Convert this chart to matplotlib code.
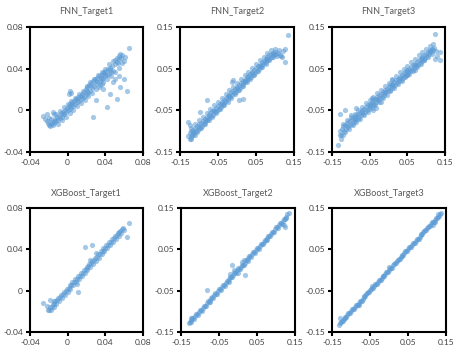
import matplotlib
matplotlib.use("Agg")
import matplotlib.pyplot as plt

plt.rcParams['font.family'] = ['Lato', 'DejaVu Sans']

# FNN_Target1
fnn1_x = [-0.026, -0.024, -0.021, -0.020, -0.019, -0.018, -0.017, -0.016, -0.015, -0.014,
          -0.013, -0.012, -0.011, -0.010, -0.009, -0.008, -0.007, -0.006, -0.005, -0.004,
          -0.003, -0.002, -0.001, 0.000, 0.001, 0.002, 0.003, 0.004, 0.005, 0.006,
          0.007, 0.008, 0.009, 0.010, 0.011, 0.012, 0.013, 0.014, 0.015, 0.016,
          0.017, 0.018, 0.019, 0.020, 0.021, 0.022, 0.023, 0.024, 0.025, 0.026,
          0.027, 0.028, 0.029, 0.030, 0.031, 0.032, 0.033, 0.034, 0.035, 0.036,
          0.037, 0.038, 0.039, 0.040, 0.041, 0.042, 0.043, 0.044, 0.045, 0.046,
          0.047, 0.048, 0.050, 0.052, 0.054, 0.055, 0.057, 0.058, 0.060, 0.061,
          0.065, 0.005, 0.015, 0.025, 0.035, 0.045, -0.005, 0.010, 0.020, 0.030,
          0.040, 0.002, 0.004, 0.001, 0.056, 0.063, 0.052, 0.042, 0.027, 0.045,
          0.050, 0.055, 0.038, 0.030, 0.060, -0.022, -0.016, 0.048,
          -0.012, -0.008, -0.004, 0.000, 0.004, 0.008, 0.012, 0.016, 0.020, 0.024,
          0.028, 0.032, 0.036, 0.040, 0.044, 0.048, 0.052, 0.056,
          -0.010, -0.006, -0.002, 0.002, 0.006, 0.010, 0.014, 0.018, 0.022, 0.026,
          0.030, 0.034, 0.038, 0.042, 0.046, 0.050, 0.054, 0.058,
          -0.022, -0.018, -0.020, -0.014, 0.050, 0.053, 0.036, 0.033]
fnn1_y = [-0.005, -0.008, -0.012, -0.014, -0.015, -0.013, -0.011, -0.014, -0.010, -0.012,
          -0.008, -0.010, -0.006, -0.009, -0.005, -0.007, -0.003, -0.006, -0.002, -0.004,
          0.000, -0.002, 0.002, 0.000, 0.004, 0.001, 0.006, 0.003, 0.008, 0.004,
          0.009, 0.006, 0.011, 0.008, 0.013, 0.009, 0.014, 0.011, 0.016, 0.012,
          0.018, 0.014, 0.020, 0.016, 0.022, 0.018, 0.024, 0.019, 0.026, 0.021,
          0.028, 0.023, 0.030, 0.025, 0.031, 0.027, 0.033, 0.028, 0.034, 0.030,
          0.036, 0.031, 0.037, 0.033, 0.038, 0.034, 0.040, 0.035, 0.041, 0.037,
          0.043, 0.038, 0.044, 0.046, 0.049, 0.052, 0.050, 0.053, 0.047, 0.051,
          0.060, 0.006, 0.014, 0.023, 0.031, 0.039, -0.004, 0.011, 0.019, 0.028,
          0.035, 0.019, 0.017, 0.016, 0.022, 0.019, 0.011, 0.003, -0.006, 0.016,
          0.030, 0.033, 0.020, 0.010, 0.030, -0.004, -0.002, 0.027,
          -0.004, -0.001, 0.003, 0.006, 0.009, 0.012, 0.016, 0.019, 0.023, 0.027,
          0.030, 0.034, 0.037, 0.040, 0.044, 0.047, 0.050, 0.054,
          -0.013, -0.009, -0.006, -0.003, 0.000, 0.004, 0.007, 0.010, 0.014, 0.017,
          0.020, 0.024, 0.027, 0.030, 0.033, 0.037, 0.041, 0.045,
          -0.010, -0.008, -0.007, -0.004, 0.048, 0.045, 0.025, 0.022]

# FNN_Target2
fnn2_x = [-0.128, -0.125, -0.122, -0.120, -0.118, -0.115, -0.113, -0.110, -0.108, -0.105,
          -0.103, -0.100, -0.098, -0.095, -0.093, -0.090, -0.088, -0.085, -0.083, -0.080,
          -0.078, -0.075, -0.073, -0.070, -0.068, -0.065, -0.063, -0.060, -0.058, -0.055,
          -0.053, -0.050, -0.048, -0.045, -0.043, -0.040, -0.038, -0.035, -0.033, -0.030,
          -0.028, -0.025, -0.023, -0.020, -0.018, -0.015, -0.013, -0.010, -0.008, -0.005,
          -0.003, 0.000, 0.002, 0.005, 0.007, 0.010, 0.012, 0.015, 0.017, 0.020,
          0.022, 0.025, 0.027, 0.030, 0.032, 0.035, 0.037, 0.040, 0.042, 0.045,
          0.047, 0.050, 0.052, 0.055, 0.057, 0.060, 0.062, 0.065, 0.067, 0.070,
          0.072, 0.075, 0.077, 0.080, 0.082, 0.085, 0.087, 0.090, 0.092, 0.095,
          0.098, 0.100, 0.103, 0.108, 0.112, 0.118, 0.120, 0.126, 0.126, 0.135,
          -0.080, -0.097, -0.128, -0.125, 0.017, 0.004, -0.014, -0.010, -0.120, -0.110,
          -0.100, -0.080, -0.060, -0.040, -0.020, 0.000, 0.020, 0.040, 0.060, 0.080,
          0.095, -0.115,
          -0.120, -0.110, -0.100, -0.090, -0.080, -0.070, -0.060, -0.050, -0.040, -0.030,
          -0.020, -0.010, 0.000, 0.010, 0.020, 0.030, 0.040, 0.050, 0.060, 0.070,
          0.080, 0.090, 0.100, 0.110,
          -0.125, -0.115, -0.105, -0.095, -0.085, -0.075, -0.065, -0.055, -0.045, -0.035,
          -0.025, -0.015, -0.005, 0.005, 0.015, 0.025, 0.035, 0.045, 0.055, 0.065,
          0.075, 0.085, 0.095, 0.105, 0.115]
fnn2_y = [-0.112, -0.105, -0.115, -0.100, -0.108, -0.096, -0.104, -0.092, -0.100, -0.088,
          -0.096, -0.083, -0.092, -0.080, -0.087, -0.076, -0.083, -0.071, -0.078, -0.066,
          -0.074, -0.062, -0.069, -0.057, -0.064, -0.052, -0.060, -0.048, -0.055, -0.044,
          -0.051, -0.039, -0.046, -0.034, -0.041, -0.030, -0.037, -0.025, -0.032, -0.021,
          -0.027, -0.016, -0.023, -0.012, -0.018, -0.007, -0.014, -0.003, -0.009, 0.002,
          -0.005, 0.006, 0.000, 0.011, 0.004, 0.015, 0.009, 0.020, 0.013, 0.024,
          0.018, 0.029, 0.022, 0.033, 0.027, 0.038, 0.031, 0.042, 0.036, 0.047,
          0.040, 0.051, 0.045, 0.056, 0.049, 0.060, 0.054, 0.065, 0.058, 0.069,
          0.063, 0.073, 0.067, 0.078, 0.071, 0.082, 0.076, 0.086, 0.079, 0.088,
          0.083, 0.090, 0.085, 0.088, 0.082, 0.078, 0.092, 0.098, 0.066, 0.130,
          -0.026, -0.054, -0.078, -0.085, -0.022, -0.026, 0.018, 0.022, -0.118, -0.110,
          -0.090, -0.072, -0.052, -0.034, -0.015, 0.003, 0.021, 0.039, 0.057, 0.074,
          0.084, -0.102,
          -0.092, -0.083, -0.074, -0.065, -0.056, -0.047, -0.038, -0.029, -0.020, -0.011,
          -0.002, 0.007, 0.016, 0.025, 0.034, 0.043, 0.052, 0.061, 0.070, 0.079,
          0.088, 0.094, 0.097, 0.095,
          -0.118, -0.110, -0.101, -0.092, -0.083, -0.074, -0.065, -0.056, -0.047, -0.038,
          -0.029, -0.020, -0.011, -0.002, 0.008, 0.017, 0.026, 0.035, 0.044, 0.053,
          0.062, 0.071, 0.078, 0.080, 0.080]

# FNN_Target3
fnn3_x = [-0.134, -0.130, -0.116, -0.130, -0.128, -0.126, -0.124, -0.122, -0.120, -0.118,
          -0.115, -0.112, -0.110, -0.108, -0.105, -0.102, -0.100, -0.098, -0.095, -0.092,
          -0.090, -0.088, -0.085, -0.082, -0.080, -0.078, -0.075, -0.072, -0.070, -0.068,
          -0.065, -0.062, -0.060, -0.058, -0.055, -0.052, -0.050, -0.048, -0.045, -0.042,
          -0.040, -0.038, -0.035, -0.032, -0.030, -0.028, -0.025, -0.022, -0.020, -0.018,
          -0.015, -0.012, -0.010, -0.008, -0.005, -0.002, 0.000, 0.003, 0.005, 0.008,
          0.010, 0.013, 0.015, 0.018, 0.020, 0.023, 0.025, 0.028, 0.030, 0.033,
          0.035, 0.038, 0.040, 0.043, 0.045, 0.048, 0.050, 0.053, 0.055, 0.058,
          0.060, 0.063, 0.065, 0.068, 0.070, 0.073, 0.075, 0.078, 0.080, 0.083,
          0.085, 0.088, 0.090, 0.093, 0.095, 0.098, 0.100, 0.103, 0.105, 0.108,
          0.110, 0.113, 0.116, 0.118, 0.120, 0.119, 0.123, 0.123, 0.137, 0.137,
          0.128, -0.032, -0.040, -0.020, -0.045, -0.085, -0.100, 0.010, 0.050, 0.070,
          -0.110, -0.090, -0.070, -0.050, -0.030, -0.010, 0.010, 0.030, 0.050, 0.070,
          0.090, 0.110,
          -0.120, -0.110, -0.100, -0.090, -0.080, -0.070, -0.060, -0.050, -0.040, -0.030,
          -0.020, -0.010, 0.000, 0.010, 0.020, 0.030, 0.040, 0.050, 0.060, 0.070,
          0.080, 0.090, 0.100, 0.110,
          -0.125, -0.115, -0.105, -0.095, -0.085, -0.075, -0.065, -0.055, -0.045, -0.035,
          -0.025, -0.015, -0.005, 0.005, 0.015, 0.025, 0.035, 0.045, 0.055, 0.065,
          0.075, 0.085, 0.095, 0.105, 0.115, 0.125]
fnn3_y = [-0.134, -0.058, -0.050, -0.110, -0.100, -0.118, -0.095, -0.108, -0.088, -0.100,
          -0.085, -0.095, -0.080, -0.090, -0.076, -0.086, -0.072, -0.082, -0.068, -0.078,
          -0.065, -0.074, -0.062, -0.070, -0.058, -0.066, -0.054, -0.062, -0.050, -0.058,
          -0.046, -0.054, -0.042, -0.050, -0.038, -0.046, -0.034, -0.042, -0.030, -0.038,
          -0.026, -0.034, -0.022, -0.030, -0.018, -0.026, -0.014, -0.021, -0.010, -0.017,
          -0.006, -0.013, -0.002, -0.009, 0.002, -0.004, 0.006, 0.000, 0.010, 0.004,
          0.014, 0.008, 0.018, 0.012, 0.022, 0.016, 0.026, 0.020, 0.030, 0.024,
          0.034, 0.028, 0.038, 0.032, 0.042, 0.036, 0.046, 0.040, 0.050, 0.044,
          0.054, 0.048, 0.058, 0.052, 0.062, 0.056, 0.066, 0.060, 0.070, 0.064,
          0.074, 0.068, 0.078, 0.072, 0.082, 0.076, 0.086, 0.080, 0.090, 0.085,
          0.094, 0.090, 0.098, 0.094, 0.100, 0.110, 0.134, 0.074, 0.070, 0.090,
          0.080, -0.045, -0.050, -0.030, -0.020, -0.045, -0.060, 0.025, 0.035, 0.048,
          -0.088, -0.071, -0.054, -0.038, -0.022, -0.005, 0.012, 0.027, 0.044, 0.060,
          0.076, 0.092,
          -0.082, -0.074, -0.066, -0.058, -0.050, -0.041, -0.033, -0.025, -0.017, -0.009,
          0.000, 0.008, 0.016, 0.024, 0.032, 0.041, 0.049, 0.057, 0.065, 0.073,
          0.082, 0.090, 0.098, 0.104,
          -0.110, -0.102, -0.094, -0.086, -0.078, -0.070, -0.061, -0.053, -0.045, -0.037,
          -0.029, -0.020, -0.012, -0.004, 0.004, 0.013, 0.021, 0.029, 0.037, 0.045,
          0.054, 0.062, 0.070, 0.078, 0.086, 0.092]

# XGBoost_Target1
xgb1_x = [-0.021, -0.019, -0.018, -0.016, -0.015, -0.013, -0.012, -0.010, -0.009, -0.007,
          -0.006, -0.004, -0.003, -0.001, 0.000, 0.002, 0.003, 0.005, 0.006, 0.008,
          0.009, 0.011, 0.012, 0.014, 0.015, 0.017, 0.018, 0.020, 0.021, 0.023,
          0.024, 0.026, 0.027, 0.029, 0.030, 0.032, 0.033, 0.035, 0.036, 0.038,
          0.039, 0.041, 0.042, 0.044, 0.045, 0.047, 0.048, 0.050, 0.051, 0.053,
          0.054, 0.056, 0.057, 0.059, 0.060,
          -0.026, -0.019, -0.015, 0.0115, 0.0186, 0.0257, 0.063, 0.065, 0.024, 0.030,
          0.010, -0.022,
          -0.020, -0.017, -0.014, -0.011, -0.008, -0.005, -0.002, 0.001, 0.004, 0.007,
          0.010, 0.013, 0.016, 0.019, 0.022, 0.025, 0.028, 0.031, 0.034, 0.037,
          0.040, 0.043, 0.046, 0.049, 0.052, 0.055, 0.058]
xgb1_y = [-0.019, -0.016, -0.019, -0.013, -0.016, -0.010, -0.013, -0.007, -0.010, -0.004,
          -0.007, -0.001, -0.004, 0.002, -0.001, 0.005, 0.002, 0.008, 0.005, 0.011,
          0.008, 0.014, 0.011, 0.017, 0.014, 0.020, 0.017, 0.023, 0.020, 0.026,
          0.023, 0.029, 0.026, 0.032, 0.029, 0.035, 0.032, 0.038, 0.035, 0.041,
          0.038, 0.044, 0.041, 0.047, 0.044, 0.050, 0.047, 0.053, 0.050, 0.056,
          0.053, 0.058, 0.056, 0.061, 0.059,
          -0.012, -0.009, -0.010, -0.001, 0.0427, 0.0443, 0.052, 0.065, 0.030, 0.036,
          0.006, -0.015,
          -0.0185, -0.0155, -0.0125, -0.0095, -0.0065, -0.0035, -0.0005, 0.0025, 0.0055, 0.0085,
          0.0115, 0.0145, 0.0175, 0.0205, 0.0235, 0.0265, 0.0295, 0.0325, 0.0355, 0.0385,
          0.0415, 0.0445, 0.0475, 0.0505, 0.0535, 0.0565, 0.0595]

# XGBoost_Target2
xgb2_x = [-0.130, -0.125, -0.120, -0.115, -0.110, -0.105, -0.100, -0.095, -0.090, -0.085,
          -0.080, -0.075, -0.070, -0.065, -0.060, -0.055, -0.050, -0.045, -0.040, -0.035,
          -0.030, -0.025, -0.020, -0.015, -0.010, -0.005, 0.000, 0.005, 0.010, 0.015,
          0.020, 0.025, 0.030, 0.035, 0.040, 0.045, 0.050, 0.055, 0.060, 0.065,
          0.070, 0.075, 0.080, 0.085, 0.090, 0.095, 0.100, 0.105, 0.110, 0.115,
          0.120, 0.125, 0.130, 0.133,
          -0.082, -0.016, 0.019, 0.124, 0.120, -0.010, 0.010, -0.020, 0.000, -0.125,
          0.015,
          -0.1275, -0.1175, -0.1075, -0.0975, -0.0875, -0.0775, -0.0675, -0.0575, -0.0475, -0.0375,
          -0.0275, -0.0175, -0.0075, 0.0025, 0.0125, 0.0225, 0.0325, 0.0425, 0.0525, 0.0625,
          0.0725, 0.0825, 0.0925, 0.1025, 0.1125, 0.1225,
          -0.1225, -0.1125, -0.1025, -0.0925, -0.0825, -0.0725, -0.0625, -0.0525, -0.0425, -0.0325,
          -0.0225, -0.0125, -0.0025, 0.0075, 0.0175, 0.0275, 0.0375, 0.0475, 0.0575, 0.0675,
          0.0775, 0.0875, 0.0975, 0.1075, 0.1175, 0.1275]
xgb2_y = [-0.128, -0.127, -0.116, -0.118, -0.107, -0.108, -0.096, -0.098, -0.087, -0.088,
          -0.076, -0.078, -0.067, -0.068, -0.056, -0.058, -0.047, -0.048, -0.036, -0.038,
          -0.027, -0.028, -0.016, -0.018, -0.007, -0.008, 0.004, 0.002, 0.013, 0.012,
          0.024, 0.022, 0.033, 0.032, 0.044, 0.042, 0.053, 0.052, 0.064, 0.062,
          0.073, 0.072, 0.083, 0.082, 0.093, 0.092, 0.103, 0.102, 0.113, 0.112,
          0.123, 0.127, 0.135, 0.138,
          -0.049, 0.012, -0.012, 0.105, 0.110, 0.000, 0.020, -0.010, -0.008, -0.115,
          0.025,
          -0.126, -0.117, -0.106, -0.097, -0.086, -0.077, -0.066, -0.057, -0.046, -0.037,
          -0.026, -0.017, -0.006, 0.003, 0.013, 0.023, 0.033, 0.043, 0.053, 0.063,
          0.073, 0.083, 0.093, 0.103, 0.113, 0.123,
          -0.121, -0.112, -0.101, -0.092, -0.081, -0.072, -0.061, -0.052, -0.041, -0.032,
          -0.021, -0.012, -0.001, 0.008, 0.018, 0.028, 0.038, 0.048, 0.058, 0.068,
          0.078, 0.088, 0.098, 0.108, 0.118, 0.128]

# XGBoost_Target3
xgb3_x = [-0.132, -0.127, -0.122, -0.117, -0.112, -0.107, -0.102, -0.097, -0.092, -0.087,
          -0.082, -0.077, -0.072, -0.067, -0.062, -0.057, -0.052, -0.047, -0.042, -0.037,
          -0.032, -0.027, -0.022, -0.017, -0.012, -0.007, -0.002, 0.003, 0.008, 0.013,
          0.018, 0.023, 0.028, 0.033, 0.038, 0.043, 0.048, 0.053, 0.058, 0.063,
          0.068, 0.073, 0.078, 0.083, 0.088, 0.093, 0.098, 0.103, 0.108, 0.113,
          0.118, 0.123, 0.128, 0.133, 0.136,
          -0.130, 0.117, 0.122, -0.045, -0.080, 0.000, 0.130,
          -0.1295, -0.1195, -0.1095, -0.0995, -0.0895, -0.0795, -0.0695, -0.0595, -0.0495, -0.0395,
          -0.0295, -0.0195, -0.0095, 0.0005, 0.0105, 0.0205, 0.0305, 0.0405, 0.0505, 0.0605,
          0.0705, 0.0805, 0.0905, 0.1005, 0.1105, 0.1205, 0.1305,
          -0.1245, -0.1145, -0.1045, -0.0945, -0.0845, -0.0745, -0.0645, -0.0545, -0.0445, -0.0345,
          -0.0245, -0.0145, -0.0045, 0.0055, 0.0155, 0.0255, 0.0355, 0.0455, 0.0555, 0.0655,
          0.0755, 0.0855, 0.0955, 0.1055, 0.1155, 0.1255]
xgb3_y = [-0.134, -0.126, -0.124, -0.115, -0.114, -0.105, -0.104, -0.095, -0.094, -0.085,
          -0.084, -0.075, -0.074, -0.065, -0.064, -0.055, -0.054, -0.045, -0.044, -0.035,
          -0.034, -0.025, -0.024, -0.015, -0.014, -0.005, -0.004, 0.005, 0.006, 0.015,
          0.016, 0.025, 0.026, 0.035, 0.036, 0.045, 0.046, 0.055, 0.056, 0.065,
          0.066, 0.075, 0.076, 0.085, 0.086, 0.095, 0.096, 0.105, 0.106, 0.115,
          0.116, 0.125, 0.128, 0.135, 0.138,
          -0.117, 0.109, 0.115, -0.038, -0.085, 0.008, 0.135,
          -0.129, -0.119, -0.109, -0.099, -0.089, -0.079, -0.069, -0.059, -0.049, -0.039,
          -0.029, -0.019, -0.009, 0.001, 0.011, 0.021, 0.031, 0.041, 0.051, 0.061,
          0.071, 0.081, 0.091, 0.101, 0.111, 0.121, 0.131,
          -0.124, -0.114, -0.104, -0.094, -0.084, -0.074, -0.064, -0.054, -0.044, -0.034,
          -0.024, -0.014, -0.004, 0.006, 0.016, 0.026, 0.036, 0.046, 0.056, 0.066,
          0.076, 0.086, 0.096, 0.106, 0.116, 0.126]

titles = ["FNN_Target1", "FNN_Target2", "FNN_Target3",
          "XGBoost_Target1", "XGBoost_Target2", "XGBoost_Target3"]
xs = [fnn1_x, fnn2_x, fnn3_x, xgb1_x, xgb2_x, xgb3_x]
ys = [fnn1_y, fnn2_y, fnn3_y, xgb1_y, xgb2_y, xgb3_y]

ticks_t1 = [-0.04, 0, 0.04, 0.08]
labels_t1 = ["-0.04", "0", "0.04", "0.08"]
ticks_t23 = [-0.15, -0.05, 0.05, 0.15]
labels_t23 = ["-0.15", "-0.05", "0.05", "0.15"]

W, H = 461, 355
# axes boxes in pixels: left, top, right, bottom
boxes = [(30, 27, 143, 152), (180, 27, 294, 152), (332, 27, 445, 152),
         (30, 208, 143, 332), (181, 208, 295, 332), (332, 208, 446, 332)]

fig = plt.figure(figsize=(W / 100, H / 100), dpi=100)
for i in range(6):
    l, t, r, b = boxes[i]
    ax = fig.add_axes([l / W, 1 - b / H, (r - l) / W, (b - t) / H])
    ax.scatter(xs[i], ys[i], s=14, color="#5b9bd5", alpha=0.55, linewidths=0)
    if i % 3 == 0:
        ticks, labels = ticks_t1, labels_t1
    else:
        ticks, labels = ticks_t23, labels_t23
    ax.set_xlim(ticks[0], ticks[-1])
    ax.set_ylim(ticks[0], ticks[-1])
    ax.set_xticks(ticks)
    ax.set_xticklabels(labels)
    ax.set_yticks(ticks)
    ax.set_yticklabels(labels)
    ax.tick_params(direction="out", length=3, width=1.5, labelsize=6,
                   labelcolor="#404040", pad=2)
    for sp in ax.spines.values():
        sp.set_linewidth(1.5)
    ax.set_title(titles[i], fontsize=6.5, color="#595959", pad=9)

fig.savefig("out.png", dpi=100)
